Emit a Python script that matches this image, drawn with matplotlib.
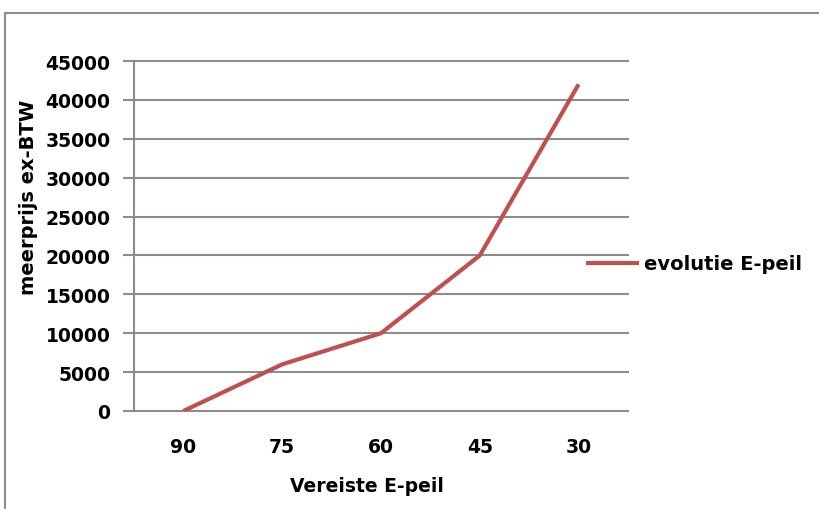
import matplotlib
matplotlib.use("Agg")
import matplotlib.pyplot as plt
from matplotlib.patches import Rectangle

# data
e_peil = ['90', '75', '60', '45', '30']
meerprijs = [0, 6000, 10000, 20000, 42000]
y_ticks = list(range(0, 45001, 5000))

plt.rcParams['font.family'] = ['DejaVu Sans']
plt.rcParams['font.weight'] = 'bold'

grey = '#8c8c8c'
red = '#C0504D'

fig = plt.figure(figsize=(8.19, 5.10), dpi=100)
ax = fig.add_axes([134 / 819, 1 - 412 / 510, 494 / 819, 350 / 510])

x = list(range(len(e_peil)))
ax.plot(x, meerprijs, color=red, linewidth=3, label='evolutie E-peil',
        solid_capstyle='butt', zorder=3)

ax.set_xlim(-0.5, len(e_peil) - 0.5)
ax.set_ylim(0, 45000)
ax.set_xticks(x)
ax.set_xticklabels(e_peil)
ax.set_yticks(y_ticks)

# gridlines run through the tick marks, like the Excel original
for yv in y_ticks:
    ax.axhline(yv, xmin=-10 / 494, xmax=1, color=grey, linewidth=1.5,
               clip_on=False, zorder=1)

for s in ['top', 'right', 'bottom']:
    ax.spines[s].set_visible(False)
ax.spines['left'].set_color(grey)
ax.spines['left'].set_linewidth(1.5)

ax.tick_params(axis='y', length=0, pad=17, labelsize=13.5)
ax.tick_params(axis='x', length=0, pad=19, labelsize=13.5)

fig.text(29 / 819, 1 - 197 / 510, 'meerprijs ex-BTW', rotation=90,
         ha='center', va='center', fontsize=14, fontweight='bold')
fig.text(367 / 819, 1 - 487 / 510, 'Vereiste E-peil',
         ha='center', va='center', fontsize=13.5, fontweight='bold')

ax.legend(loc='center left', bbox_to_anchor=(586 / 819, 1 - 265 / 510),
          bbox_transform=fig.transFigure, frameon=False, fontsize=14,
          handlelength=2.7, handletextpad=0.3, borderaxespad=0, borderpad=0)

# outer chart border (cut off at right and bottom)
fig.patches.append(Rectangle((5 / 819, -0.1), 1.2, 1.1 - 14 / 510,
                             transform=fig.transFigure, fill=False,
                             edgecolor=grey, linewidth=1.5))

fig.savefig('out.png', dpi=100)
